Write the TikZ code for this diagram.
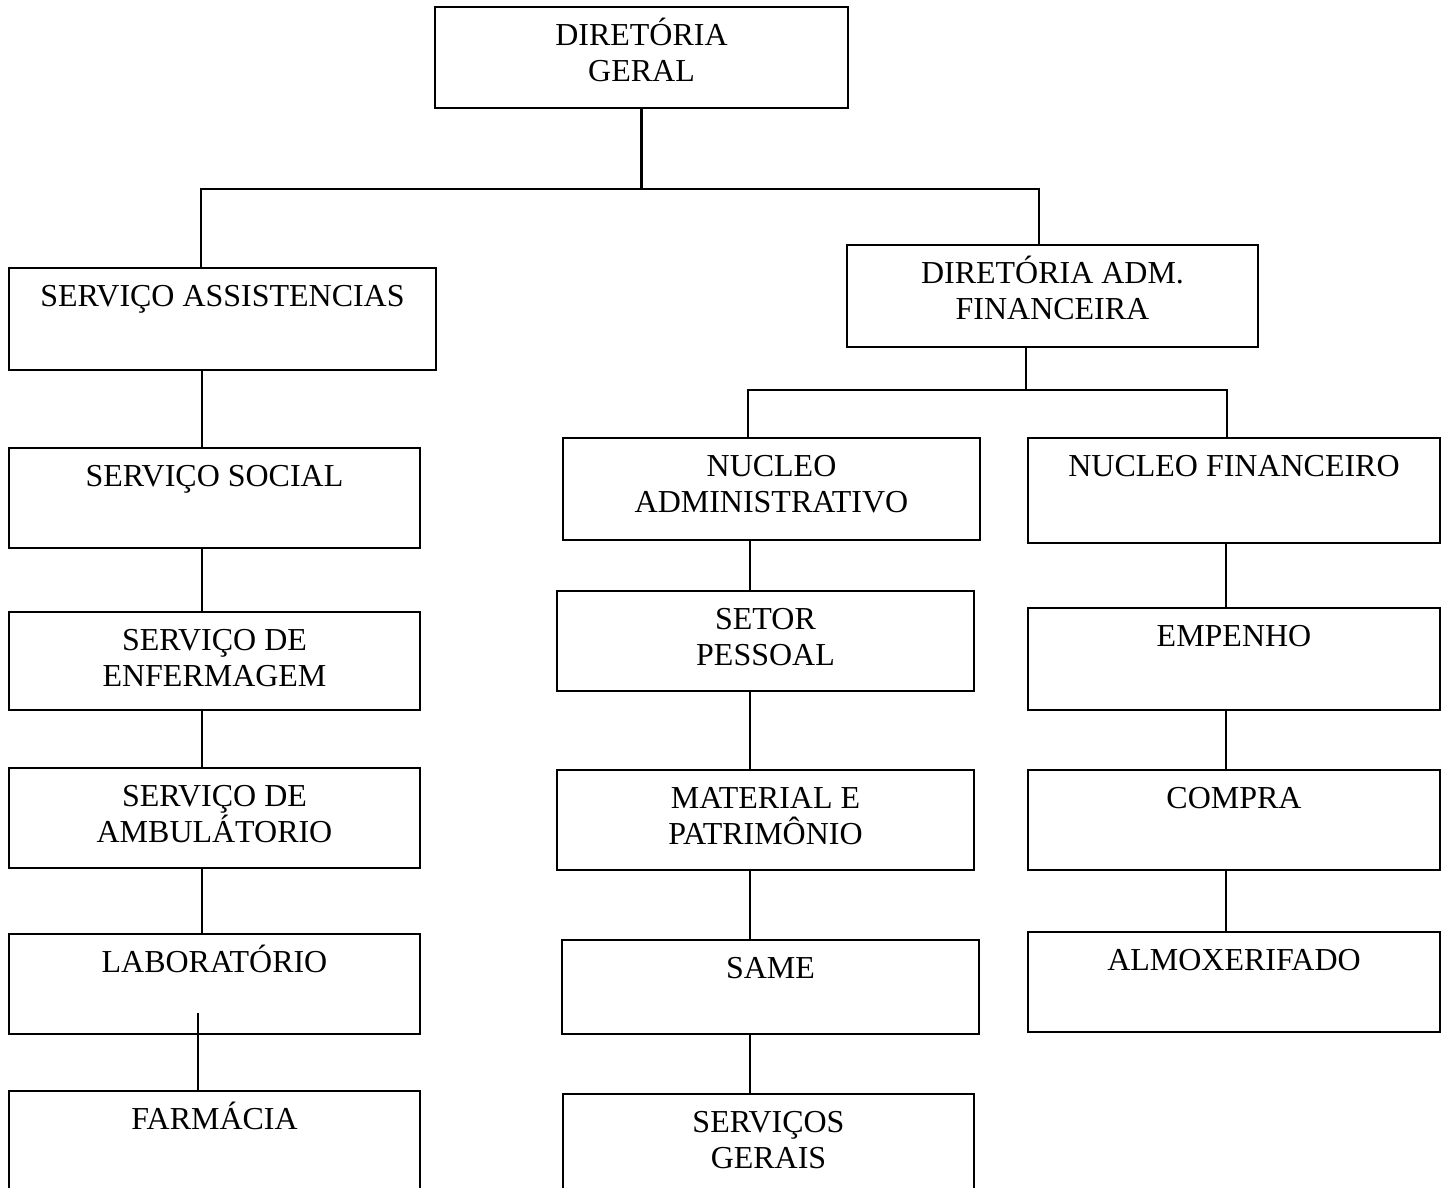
\documentclass[tikz,border=0pt]{standalone}
\usepackage{fontspec}
\setmainfont{Liberation Serif}
\tikzset{
    orgBox/.style={rectangle, draw, line width=1.4pt, inner sep=0pt},
    orgText/.style={anchor=base, yshift=-0.8cm, align=center, inner sep=0pt,
        font=\fontsize{18.2pt}{20.4pt}\selectfont},
    orgTextTwo/.style={orgText, yshift=-0.72cm},
    orgLink/.style={line width=1.2pt}
}
\begin{document}
\begin{tikzpicture}[x=0.02cm, y=-0.02cm]
\useasboundingbox (0,0) rectangle (1450,1187);
\clip (0,0) rectangle (1450,1187);

% Diretoria geral
\node[orgBox, minimum width=8.26cm, minimum height=2.02cm, label={[orgTextTwo]north:DIRETÓRIA\\GERAL}] (geral) at (641.5,57.5) {};

% Segundo nivel
\node[orgBox, minimum width=8.54cm, minimum height=2.04cm, label={[orgText]north:SERVIÇO ASSISTENCIAS}] (assist) at (222.5,319) {};
\node[orgBox, minimum width=8.22cm, minimum height=2.04cm, label={[orgTextTwo]north:DIRETÓRIA ADM.\\FINANCEIRA}] (adm) at (1052.5,296) {};

% Coluna assistencial
\node[orgBox, minimum width=8.22cm, minimum height=2.0cm, label={[orgText]north:SERVIÇO SOCIAL}] (social) at (214.5,498) {};
\node[orgBox, minimum width=8.22cm, minimum height=1.96cm, label={[orgTextTwo]north:SERVIÇO DE\\ENFERMAGEM}] (enferm) at (214.5,661) {};
\node[orgBox, minimum width=8.22cm, minimum height=2.0cm, label={[orgTextTwo]north:SERVIÇO DE\\AMBULÁTORIO}] (ambul) at (214.5,818) {};
\node[orgBox, minimum width=8.22cm, minimum height=2.0cm, label={[orgText]north:LABORATÓRIO}] (lab) at (214.5,984) {};
\node[orgBox, minimum width=8.22cm, minimum height=2.16cm, label={[orgText]north:FARMÁCIA}] (farm) at (214.5,1145) {};

% Nucleo administrativo
\node[orgBox, minimum width=8.34cm, minimum height=2.04cm, label={[orgTextTwo]north:NUCLEO\\ADMINISTRATIVO}] (nucadm) at (771.5,489) {};
\node[orgBox, minimum width=8.34cm, minimum height=2.0cm, label={[orgTextTwo]north:SETOR\\PESSOAL}] (setor) at (765.5,641) {};
\node[orgBox, minimum width=8.34cm, minimum height=2.0cm, label={[orgTextTwo]north:MATERIAL E\\PATRIMÔNIO}] (material) at (765.5,820) {};
\node[orgBox, minimum width=8.34cm, minimum height=1.88cm, label={[orgText]north:SAME}] (same) at (770.5,987) {};
\node[orgBox, minimum width=8.22cm, minimum height=2.12cm, label={[orgTextTwo]north:SERVIÇOS\\GERAIS}] (gerais) at (768.5,1147) {};

% Nucleo financeiro
\node[orgBox, minimum width=8.24cm, minimum height=2.1cm, label={[orgText]north:NUCLEO FINANCEIRO}] (nucfin) at (1234,490.5) {};
\node[orgBox, minimum width=8.24cm, minimum height=2.04cm, label={[orgText]north:EMPENHO}] (empenho) at (1234,659) {};
\node[orgBox, minimum width=8.24cm, minimum height=2.0cm, label={[orgText]north:COMPRA}] (compra) at (1234,820) {};
\node[orgBox, minimum width=8.24cm, minimum height=2.0cm, label={[orgText]north:ALMOXERIFADO}] (almox) at (1234,982) {};

% Barramentos
\coordinate (busL) at (201,189);
\coordinate (busR) at (1039,189);
\coordinate (admDrop) at (1026,390);
\coordinate (busAL) at (748,390);
\coordinate (busAR) at (1227,390);
\coordinate (colL) at (202,0);
\coordinate (colM) at (750,0);
\coordinate (colR) at (1226,0);
\coordinate (labTail) at (198,1013);

\draw[orgLink] (geral.south) -- (geral.south |- busL);
\draw[orgLink] (assist.north -| busL) -- (busL) -- (busR) -- (adm.north -| busR);
\draw[orgLink] (adm.south -| admDrop) -- (admDrop);
\draw[orgLink] (nucadm.north -| busAL) -- (busAL) -- (busAR) -- (nucfin.north -| busAR);

% Ligacoes verticais
\draw[orgLink] (assist.south -| colL) -- (social.north -| colL);
\draw[orgLink] (social.south -| colL) -- (enferm.north -| colL);
\draw[orgLink] (enferm.south -| colL) -- (ambul.north -| colL);
\draw[orgLink] (ambul.south -| colL) -- (lab.north -| colL);
\draw[orgLink] (labTail) -- (farm.north -| labTail);
\draw[orgLink] (nucadm.south -| colM) -- (setor.north -| colM);
\draw[orgLink] (setor.south -| colM) -- (material.north -| colM);
\draw[orgLink] (material.south -| colM) -- (same.north -| colM);
\draw[orgLink] (same.south -| colM) -- (gerais.north -| colM);
\draw[orgLink] (nucfin.south -| colR) -- (empenho.north -| colR);
\draw[orgLink] (empenho.south -| colR) -- (compra.north -| colR);
\draw[orgLink] (compra.south -| colR) -- (almox.north -| colR);
\end{tikzpicture}
\end{document}
